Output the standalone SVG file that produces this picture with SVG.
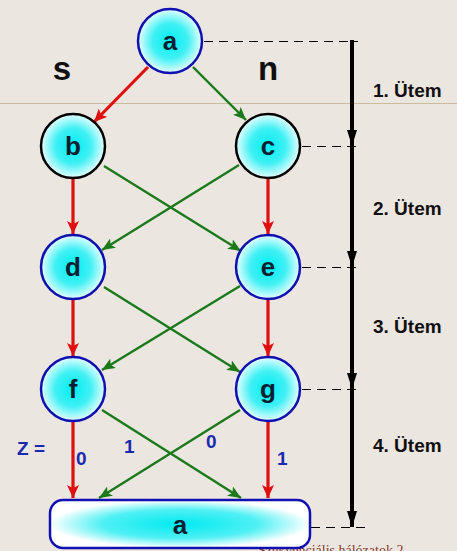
<svg xmlns="http://www.w3.org/2000/svg" width="457" height="551" viewBox="0 0 457 551">
<defs>
<radialGradient id="gc" cx="50%" cy="50%" r="50%">
<stop offset="0" stop-color="#00eef2"/>
<stop offset="0.55" stop-color="#40f0f4"/>
<stop offset="1" stop-color="#e6ffff"/>
</radialGradient>
<radialGradient id="gr" cx="50%" cy="50%" r="50%">
<stop offset="0" stop-color="#00eaf0"/>
<stop offset="0.6" stop-color="#50f0f4"/>
<stop offset="1" stop-color="#ffffff"/>
</radialGradient>
<marker id="mr" markerWidth="13" markerHeight="12" refX="13" refY="6" orient="auto" markerUnits="userSpaceOnUse" viewBox="0 0 13 12">
<path d="M0,0 L13,6 L0,12 L3,6 Z" fill="#e01010"/>
</marker>
<marker id="mg" markerWidth="13" markerHeight="11" refX="13" refY="5.5" orient="auto" markerUnits="userSpaceOnUse" viewBox="0 0 13 11">
<path d="M0,0 L13,5.5 L0,11 L3,5.5 Z" fill="#1a7a1a"/>
</marker>
<marker id="mk" markerWidth="16" markerHeight="10" refX="16" refY="5" orient="auto" markerUnits="userSpaceOnUse" viewBox="0 0 16 10">
<path d="M0,0 L16,5 L0,10 Z" fill="#000"/>
</marker>
</defs>
<style>
.node circle{fill:url(#gc);stroke-width:2.5}
.blue{stroke:#1010b0}
.black{stroke:#000}
.lbl{font-family:"Liberation Sans",Arial,sans-serif;font-weight:bold;font-size:26px;fill:#0a2030;text-anchor:middle}
.red{stroke:#e01010;stroke-width:3.2;fill:none;marker-end:url(#mr)}
.grn{stroke:#1a7a1a;stroke-width:2.4;fill:none;marker-end:url(#mg)}
.dash{stroke:#000;stroke-width:1;stroke-dasharray:9,6;fill:none}
.tick{stroke:#000;stroke-width:4;fill:none;marker-end:url(#mk)}
.utem{font-family:"Liberation Sans",Arial,sans-serif;font-weight:bold;font-size:19px;fill:#101010}
.z{font-family:"Liberation Sans",Arial,sans-serif;font-weight:bold;font-size:19px;fill:#1a2ab0}
.sn{font-family:"Liberation Sans",Arial,sans-serif;font-weight:bold;font-size:33px;fill:#101010;text-anchor:middle}
</style>
<rect x="0" y="0" width="457" height="551" fill="#ece6e1"/>
<line x1="0" y1="103.5" x2="457" y2="103.5" stroke="#cbbd9c" stroke-width="1"/>
<text x="258" y="555" font-family="Liberation Serif,serif" font-size="14" fill="#8a3a2a">Szekvenciális hálózatok 2</text>

<g id="connectors">
<path class="red" d="M148,67 L94,122"/>
<path class="grn" d="M193,67 L246,120"/>
<path class="red" d="M73,179 L73,234"/>
<path class="red" d="M268,179 L268,234"/>
<path class="grn" d="M104,166 L241,251"/>
<path class="grn" d="M239,165 L102,250"/>
<path class="red" d="M73,300 L73,356"/>
<path class="red" d="M268,300 L268,356"/>
<path class="grn" d="M104,287 L240,372"/>
<path class="grn" d="M240,286 L102,370"/>
<path class="red" d="M73,422 L73,498"/>
<path class="red" d="M268,422 L268,498"/>
<path class="grn" d="M102,410 L241,498"/>
<path class="grn" d="M240,410 L99,498"/>
<path class="dash" d="M204,41.5 L358,41.5"/>
<path class="dash" d="M302,146.5 L360,146.5"/>
<path class="dash" d="M302,267.5 L362,267.5"/>
<path class="dash" d="M302,389.5 L360,389.5"/>
<path class="dash" d="M311,527.5 L370,527.5"/>
<path class="tick" d="M352,40 L352,146"/>
<path class="tick" d="M352,146 L352,267"/>
<path class="tick" d="M352,267 L352,389"/>
<path class="tick" d="M352,389 L352,527"/>
</g>

<g id="node-a-top" class="node"><circle class="blue" cx="170" cy="41" r="32"/><text class="lbl" x="170" y="50">a</text></g>
<g id="node-b" class="node"><circle class="black" cx="73" cy="146" r="32"/><text class="lbl" x="73" y="155">b</text></g>
<g id="node-c" class="node"><circle class="black" cx="268" cy="146" r="32"/><text class="lbl" x="268" y="155">c</text></g>
<g id="node-d" class="node"><circle class="blue" cx="73" cy="267" r="32"/><text class="lbl" x="73" y="276">d</text></g>
<g id="node-e" class="node"><circle class="blue" cx="268" cy="267" r="32"/><text class="lbl" x="268" y="276">e</text></g>
<g id="node-f" class="node"><circle class="blue" cx="73" cy="389" r="32"/><text class="lbl" x="73" y="398">f</text></g>
<g id="node-g" class="node"><circle class="blue" cx="268" cy="389" r="32"/><text class="lbl" x="268" y="398">g</text></g>
<g id="node-a-bottom"><rect x="50" y="500" width="260" height="48" rx="13" fill="url(#gr)" stroke="#1010b0" stroke-width="2.5"/><text class="lbl" x="180" y="534">a</text></g>

<text class="sn" x="62" y="80">s</text>
<text class="sn" x="268" y="80">n</text>
<text class="utem" x="373" y="97">1. Ütem</text>
<text class="utem" x="373" y="215">2. Ütem</text>
<text class="utem" x="373" y="333">3. Ütem</text>
<text class="utem" x="373" y="452">4. Ütem</text>
<text class="z" x="17" y="455">Z =</text>
<text class="z" x="76" y="465">0</text>
<text class="z" x="124" y="453">1</text>
<text class="z" x="206" y="448">0</text>
<text class="z" x="277" y="465">1</text>
</svg>
